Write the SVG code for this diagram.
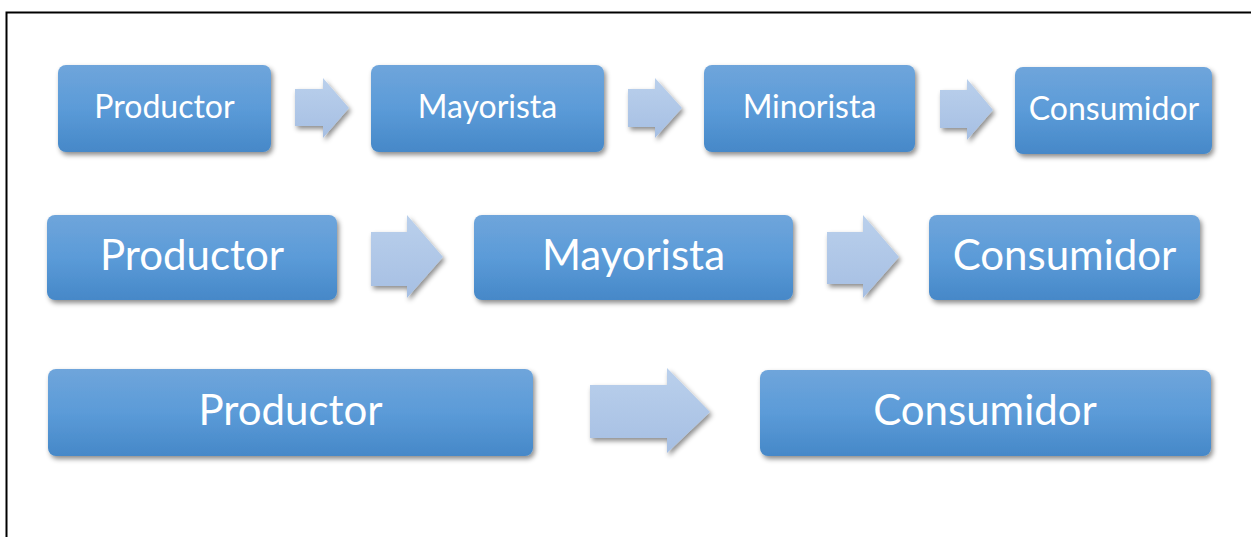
<svg xmlns="http://www.w3.org/2000/svg" width="1251" height="537" viewBox="0 0 1251 537">
<defs>
<linearGradient id="boxg" x1="0" y1="0" x2="0" y2="1">
<stop offset="0" stop-color="#6fa5db"/>
<stop offset="0.5" stop-color="#5b9bd8"/>
<stop offset="1" stop-color="#4688c8"/>
</linearGradient>
<linearGradient id="arrg" x1="0" y1="0" x2="0" y2="1">
<stop offset="0" stop-color="#bad0ec"/>
<stop offset="1" stop-color="#a6bfe3"/>
</linearGradient>
<filter id="sh" x="-10%" y="-20%" width="125%" height="150%">
<feDropShadow dx="2" dy="3" stdDeviation="2.5" flood-color="#000" flood-opacity="0.45"/>
</filter>
</defs>
<style>
.box{fill:url(#boxg);filter:url(#sh)}
.arr{fill:url(#arrg);filter:url(#sh)}
.t{font-family:Lato,"Liberation Sans",sans-serif;fill:#fff;text-anchor:middle}
.s1{font-size:32px}
.s2{font-size:42px}
</style>
<rect width="1251" height="537" fill="#fff"/>
<path d="M6.5,537 V12.5 H1251" fill="none" stroke="#000" stroke-width="2"/>

<g id="r1-productor"><rect class="box" x="58" y="65" width="213" height="87" rx="8"/><text class="t s1" x="164.5" y="118">Productor</text></g>
<g id="r1-mayorista"><rect class="box" x="371" y="65" width="233" height="87" rx="8"/><text class="t s1" x="487.5" y="118">Mayorista</text></g>
<g id="r1-minorista"><rect class="box" x="704" y="65" width="211" height="87" rx="8"/><text class="t s1" x="809.5" y="118">Minorista</text></g>
<g id="r1-consumidor"><rect class="box" x="1015" y="67" width="197" height="87" rx="8"/><text class="t s1" x="1114" y="120">Consumidor</text></g>

<g id="r2-productor"><rect class="box" x="47" y="215" width="290" height="85" rx="8"/><text class="t s2" x="192" y="270">Productor</text></g>
<g id="r2-mayorista"><rect class="box" x="474" y="215" width="319" height="85" rx="8"/><text class="t s2" x="633.5" y="270">Mayorista</text></g>
<g id="r2-consumidor"><rect class="box" x="929" y="215" width="271" height="85" rx="8"/><text class="t s2" x="1064.5" y="270">Consumidor</text></g>

<g id="r3-productor"><rect class="box" x="48" y="369" width="485" height="87" rx="8"/><text class="t s2" x="290.5" y="425">Productor</text></g>
<g id="r3-consumidor"><rect class="box" x="760" y="370" width="451" height="86" rx="8"/><text class="t s2" x="985" y="425">Consumidor</text></g>

<g id="connectors">
<polygon class="arr" points="295,89 323,89 323,78 349,108 323,138 323,126 295,126"/>
<polygon class="arr" points="628,89 655,89 655,78 682,108 655,138 655,127 628,127"/>
<polygon class="arr" points="940,90 967,90 967,79 993,110 967,140 967,128 940,128"/>
<polygon class="arr" points="371,232 407,232 407,215 443,257 407,298 407,286 371,286"/>
<polygon class="arr" points="827,232 863,232 863,215 899,257 863,298 863,284 827,284"/>
<polygon class="arr" points="590,385 667,385 667,368 710,412 667,453 667,438 590,438"/>
</g>
</svg>
